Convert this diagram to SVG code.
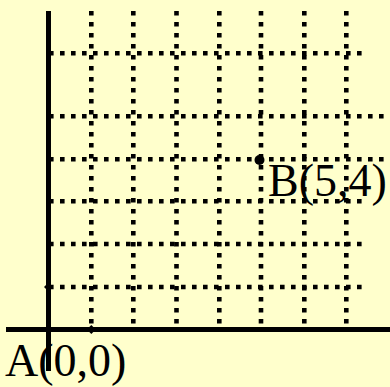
<svg xmlns="http://www.w3.org/2000/svg" width="390" height="387" viewBox="0 0 390 387">
<style>
.grid{stroke:#000;stroke-width:4.6;stroke-dasharray:4.6 6.4;fill:none}
.axis{stroke:#000;stroke-width:5;fill:none}
.lbl{font-family:"Liberation Serif","Times New Roman",serif;font-size:46px;fill:#000}
.pt{fill:#000}
</style>
<rect x="0" y="0" width="390" height="387" fill="#FFFFCC"/>
<g id="connectors">
<g id="grid-v">
<line class="grid" x1="91.3" y1="11" x2="91.3" y2="328"/>
<line class="grid" x1="133.3" y1="11" x2="133.3" y2="328"/>
<line class="grid" x1="176.5" y1="11" x2="176.5" y2="328"/>
<line class="grid" x1="219.3" y1="11" x2="219.3" y2="328"/>
<line class="grid" x1="261" y1="11" x2="261" y2="328"/>
<line class="grid" x1="304.3" y1="11" x2="304.3" y2="328"/>
<line class="grid" x1="346.3" y1="11" x2="346.3" y2="328"/>
</g>
<g id="grid-h">
<line class="grid" x1="49" y1="53.3" x2="367" y2="53.3"/>
<line class="grid" x1="49" y1="116.3" x2="390" y2="116.3"/>
<line class="grid" x1="49" y1="159.3" x2="390" y2="159.3"/>
<line class="grid" x1="49" y1="201.3" x2="367" y2="201.3"/>
<line class="grid" x1="49" y1="244" x2="367" y2="244"/>
<line class="grid" x1="49" y1="287" x2="367" y2="287"/>
</g>
<line id="y-axis" class="axis" x1="48.5" y1="11" x2="48.5" y2="371"/>
<line id="x-axis" class="axis" x1="6" y1="329.5" x2="390" y2="329.5"/>
</g>
<g id="A">
<path class="pt" d="M48.5 325 L53 329.5 L48.5 334 L44 329.5 Z"/>
<text class="lbl" x="5" y="376">A(0,0)</text>
</g>
<g id="P1">
<path class="pt" d="M91.3 325 L95.8 329.5 L91.3 334 L86.8 329.5 Z"/>
</g>
<g id="P2">
<path class="pt" d="M48.5 282.5 L53 287 L48.5 291.5 L44 287 Z"/>
</g>
<g id="B">
<circle class="pt" cx="259.5" cy="160" r="5"/>
<text class="lbl" x="268" y="196">B(5,4)</text>
</g>
</svg>
